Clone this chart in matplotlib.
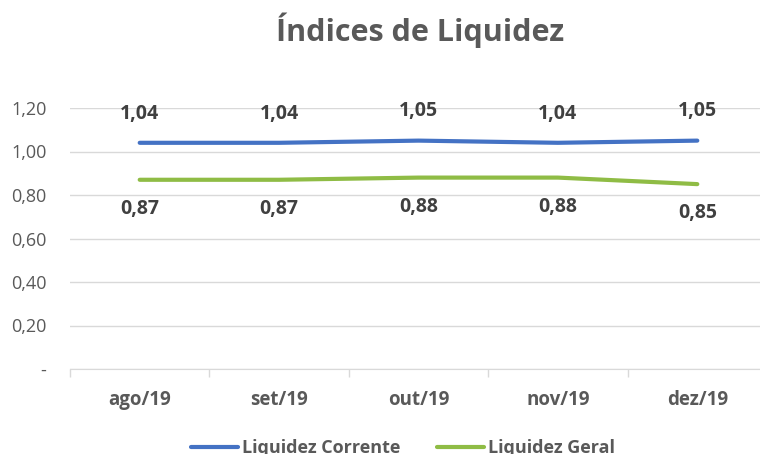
import matplotlib.pyplot as plt
from matplotlib.ticker import FixedLocator

meses = ['ago/19', 'set/19', 'out/19', 'nov/19', 'dez/19']
corrente = [1.04, 1.04, 1.05, 1.04, 1.05]
geral = [0.87, 0.87, 0.88, 0.88, 0.85]
yticks = [0, 0.2, 0.4, 0.6, 0.8, 1.0, 1.2]
ylabels = ['-', '0,20', '0,40', '0,60', '0,80', '1,00', '1,20']

plt.rcParams['font.family'] = ['Open Sans', 'DejaVu Sans']

fig = plt.figure(figsize=(7.6, 4.54), dpi=100)
ax = fig.add_axes([70/760, 1-369/454, 697/760, 261/454])

x = list(range(len(meses)))
ax.plot(x, corrente, color='#4472C4', lw=3, solid_capstyle='round', label='Liquidez Corrente')
ax.plot(x, geral, color='#8FBC45', lw=3, solid_capstyle='round', label='Liquidez Geral')

# rótulos de dados
for i, v in enumerate(corrente):
    ax.annotate(f'{v:.2f}'.replace('.', ','), (i, v), xytext=(0, 21), textcoords='offset points',
                ha='center', va='center', fontsize=14, fontweight='bold', color='#404040')
for i, v in enumerate(geral):
    ax.annotate(f'{v:.2f}'.replace('.', ','), (i, v), xytext=(0, -21), textcoords='offset points',
                ha='center', va='center', fontsize=14, fontweight='bold', color='#404040')

ax.set_xlim(-0.5, 4.5)
ax.set_ylim(0, 1.2)
ax.set_yticks(yticks)
ax.set_yticklabels(ylabels, fontsize=13, color='#595959')
ax.set_xticks(x)
ax.set_xticklabels(meses, fontsize=13.5, fontweight='bold', color='#595959')
ax.xaxis.set_minor_locator(FixedLocator([-0.5, 0.5, 1.5, 2.5, 3.5, 4.5]))
ax.tick_params(axis='x', which='major', length=0, pad=15)
ax.tick_params(axis='x', which='minor', length=6, color='#D9D9D9', width=1)
ax.tick_params(axis='y', length=0, pad=17)
ax.grid(axis='y', color='#D9D9D9', lw=1)
ax.set_axisbelow(True)
for s in ['top', 'right', 'left']:
    ax.spines[s].set_visible(False)
ax.spines['bottom'].set_color('#D9D9D9')

fig.text(420/760, 1-30/454, 'Índices de Liquidez', ha='center', va='center',
         fontsize=22, fontweight='bold', color='#595959')

leg = fig.legend(loc='center', bbox_to_anchor=(403/760, 1-448/454), ncol=2, frameon=False,
                 prop={'size': 13, 'weight': 'bold'}, handlelength=2.6, columnspacing=2.0,
                 handletextpad=0.25)
for t in leg.get_texts():
    t.set_color('#595959')

fig.savefig('out.png', dpi=100)
